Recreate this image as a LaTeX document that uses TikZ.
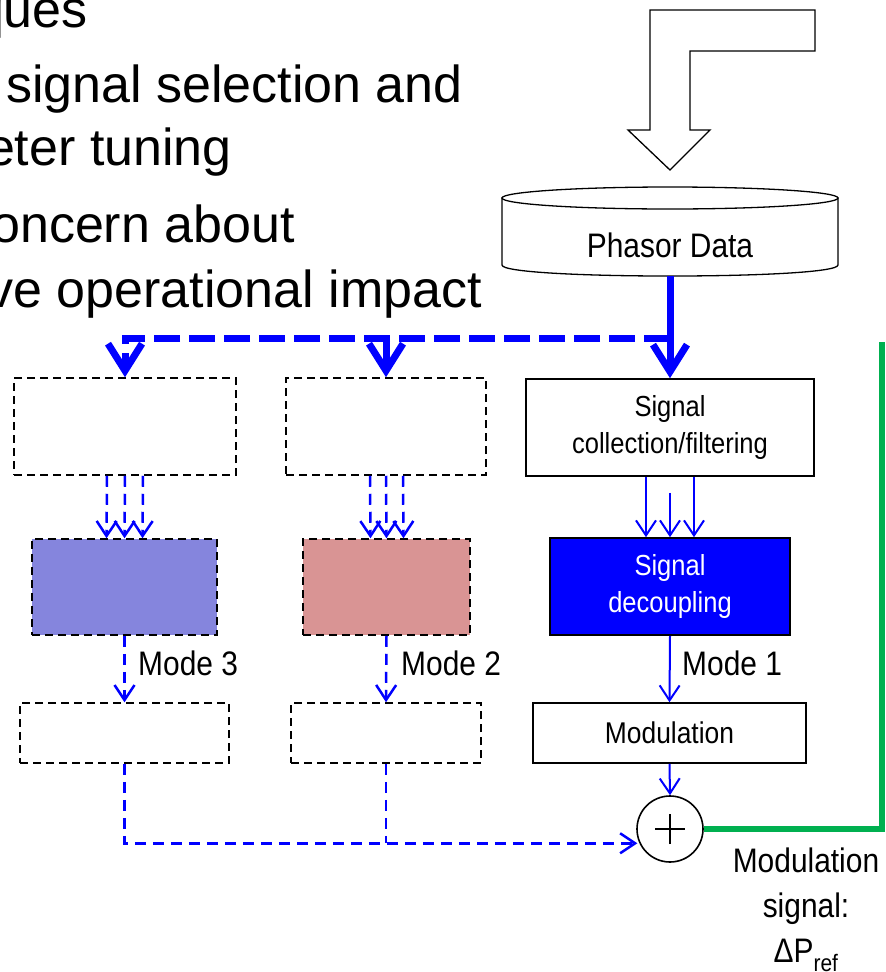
\documentclass[tikz,border=0pt]{standalone}
\usepackage{fontspec}
\setmainfont{Liberation Sans}
\usepackage{graphicx}
\usetikzlibrary{arrows.meta,calc}
\definecolor{pblue}{RGB}{0,0,255}
\definecolor{lav}{RGB}{133,133,221}
\definecolor{rose}{RGB}{217,148,148}
\definecolor{grn}{RGB}{0,176,80}
\newcommand{\cnd}[1]{\scalebox{0.88}[1]{#1}}
\begin{document}
\begin{tikzpicture}[x=1pt,y=-1pt,
  box/.style={draw=black, line width=1.6pt, inner sep=0pt, align=center},
  dbox/.style={draw=black, line width=1.5pt, dash pattern=on 8pt off 5pt, inner sep=0pt},
  bigtxt/.style={anchor=base east, inner sep=0pt, font=\fontsize{52}{60}\selectfont},
  lbl/.style={anchor=base west, inner sep=0pt, font=\fontsize{34}{40}\selectfont},
  thickarr/.style={draw=pblue, line width=7pt, -{Straight Barb[length=27pt,width=34pt]}},
  thickdash/.style={thickarr, dash pattern=on 26pt off 9pt},
  tharr/.style={draw=pblue, line width=2pt, -{Straight Barb[length=15pt,width=20pt]}},
  dtharr/.style={tharr, line width=2.5pt, dash pattern=on 11pt off 7pt},
  dtline/.style={draw=pblue, line width=2.5pt, dash pattern=on 11pt off 7pt},
  grnline/.style={draw=grn, line width=6pt, line join=miter}]
\useasboundingbox (0,0) rectangle (886,972);

% bullet text (clipped at left)
\node[bigtxt] (t1) at (88,27) {ques};
\node[bigtxt] (t2) at (463,102) {signal selection and};
\node[bigtxt] (t3) at (232,165) {eter tuning};
\node[bigtxt] (t4) at (295,242) {oncern about};
\node[bigtxt] (t5) at (482,307) {ve operational impact};

% big hollow arrow
\draw[line width=1.3pt, fill=white] (650,10) -- (815,10) -- (815,51) -- (690,51) -- (690,130) -- (710,130) -- (670,170) -- (628,130) -- (650,130) -- cycle;

% cylinder
\draw[line width=1.3pt, fill=white] (502,198) -- (502,265) .. controls (502,279.7) and (838,279.7) .. (838,265) -- (838,198) -- cycle;
\draw[line width=1.3pt, fill=white] (670,198) ellipse [x radius=168pt, y radius=11pt];
\node[inner sep=0pt, font=\fontsize{34}{40}\selectfont] (pd) at (670,245) {\cnd{Phasor Data}};
\coordinate (pdb) at (670,276);
\coordinate (jn) at (670,338);
\coordinate (gtop) at (882,342);

% boxes
\node[dbox, minimum width=222pt, minimum height=97pt] (l1) at (125,426.5) {};
\node[dbox, minimum width=200pt, minimum height=97pt] (m1) at (386,426.5) {};
\node[box, minimum width=288pt, minimum height=97pt, font=\fontsize{29}{37}\selectfont] (sc) at (670,427.5) {\cnd{Signal}\\\cnd{collection/filtering}};
\node[dbox, fill=lav, minimum width=185pt, minimum height=96pt] (l2) at (124.5,587) {};
\node[dbox, fill=rose, minimum width=167pt, minimum height=96pt] (m2) at (386.5,587) {};
\node[box, fill=pblue, text=white, minimum width=240pt, minimum height=97pt, font=\fontsize{29}{37}\selectfont] (sd) at (670,586.5) {\cnd{Signal}\\\cnd{decoupling}};
\node[dbox, minimum width=209pt, minimum height=60pt] (l3) at (124.5,733) {};
\node[dbox, minimum width=190pt, minimum height=60pt] (m3) at (386,733) {};
\node[box, minimum width=273pt, minimum height=60pt, font=\fontsize{30}{36}\selectfont] (mod) at (669.5,733) {\cnd{Modulation}};
\node[draw=black, circle, line width=1.6pt, minimum size=66pt, inner sep=0pt] (sum) at (670,829) {};
\draw[line width=1.8pt] ([xshift=-15pt]sum.center) -- ([xshift=15pt]sum.center);
\draw[line width=1.8pt] ([yshift=-15pt]sum.center) -- ([yshift=15pt]sum.center);

% labels
\node[lbl] (mo3) at (138,675) {\cnd{Mode 3}};
\node[lbl] (mo2) at (401,675) {\cnd{Mode 2}};
\node[lbl] (mo1) at (682,675) {\cnd{Mode 1}};
\node[anchor=north, align=center, inner sep=0pt, font=\fontsize{34}{45}\selectfont] (msig) at (806,848) {\cnd{Modulation}\\\cnd{signal:}\\\cnd{ΔP\textsubscript{ref}}};

% thick connectors
\draw[thickarr] (pdb) -- (sc.north);
\draw[thickdash] (jn) -- (l1.north |- jn) -- (l1.north);
\draw[thickdash] (m1.north |- jn) -- (m1.north);

% signal collection -> decoupling
\foreach \dx in {-24,24} \draw[tharr] ([xshift=\dx pt]sc.south) -- ([xshift=\dx pt]sd.north);
\draw[tharr] ([yshift=-16pt]sc.south) -- (sd.north);
\foreach \dx in {-18,0,18} \draw[dtharr] ([xshift=\dx pt]l1.south) -- ([xshift=\dx pt]l2.north);
\foreach \dx in {-16,0,17} \draw[dtharr] ([xshift=\dx pt]m1.south) -- ([xshift=\dx pt]m2.north);

% mode paths
\draw[tharr] (sd.south) -- (mod.north);
\draw[dtharr] (l2.south) -- (l3.north);
\draw[dtharr] (m2.south) -- (m3.north);
\draw[tharr] (mod.south) -- (sum.north);
\draw[dtharr, shorten >=2pt] (l3.south) |- (sum.205);
\draw[dtline] (m3.south) -- (m3.south |- sum.205);

% green output
\draw[grnline] (sum.east) -| (gtop);
\end{tikzpicture}
\end{document}
